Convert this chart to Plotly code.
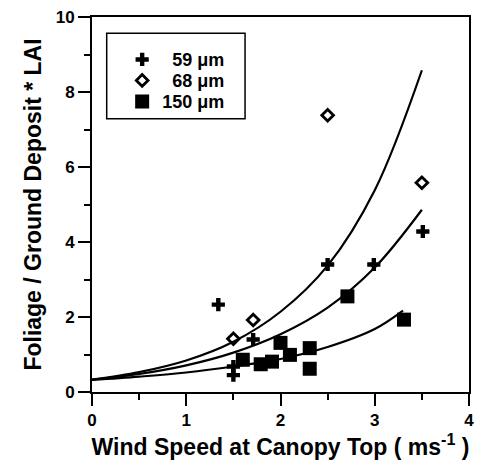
import plotly.graph_objects as go

# --- data ---
x59 = [1.34, 1.50, 1.50, 1.71, 2.50, 2.99, 3.51]
y59 = [2.33, 0.45, 0.68, 1.40, 3.40, 3.40, 4.28]

x68 = [1.50, 1.71, 2.50, 3.50]
y68 = [1.42, 1.92, 7.38, 5.58]

x150 = [1.60, 1.79, 1.91, 2.00, 2.10, 2.31, 2.31, 2.71, 3.31]
y150 = [0.86, 0.74, 0.81, 1.31, 0.99, 1.17, 0.62, 2.55, 1.93]

# fitted curves
cx68 = [0.0, 0.5, 1.0, 1.5, 2.0, 2.5, 3.0, 3.5]
cy68 = [0.33, 0.53, 0.84, 1.34, 2.14, 3.37, 5.38, 8.58]
cx59 = [0.0, 0.5, 1.0, 1.5, 2.0, 2.5, 3.0, 3.5]
cy59 = [0.33, 0.48, 0.71, 1.05, 1.54, 2.25, 3.32, 4.86]
cx150 = [0.0, 0.5, 1.0, 1.5, 2.0, 2.5, 3.0, 3.3]
cy150 = [0.32, 0.41, 0.52, 0.68, 0.88, 1.2, 1.68, 2.17]

labels = ["\u200759 \u03bcm", "\u200768 \u03bcm", "150 \u03bcm"]

FONT = "Liberation Sans, Arial, sans-serif"

fig = go.Figure()
for cx, cy in [(cx68, cy68), (cx59, cy59), (cx150, cy150)]:
    fig.add_trace(go.Scatter(x=cx, y=cy, mode="lines", line=dict(color="black", width=2.2, shape="spline"),
                             showlegend=False, hoverinfo="skip"))

fig.add_trace(go.Scatter(x=x59, y=y59, mode="markers", name=labels[0], legend="legend",
                         marker=dict(symbol="cross", size=11, color="black", line=dict(width=0))))
fig.add_trace(go.Scatter(x=x68, y=y68, mode="markers", name=labels[1], legend="legend2",
                         marker=dict(symbol="diamond-open", size=9, color="black", line=dict(width=2.8, color="black"))))
fig.add_trace(go.Scatter(x=x150, y=y150, mode="markers", name=labels[2], legend="legend3",
                         marker=dict(symbol="square", size=14, color="black", line=dict(width=0))))

leg = dict(x=0.08, xanchor="left", yanchor="middle", bgcolor="rgba(0,0,0,0)",
           borderwidth=0, font=dict(size=18, weight="bold"), itemwidth=30)

fig.update_layout(
    width=479, height=462,
    margin=dict(l=92, r=5, t=17, b=70),
    plot_bgcolor="white", paper_bgcolor="white",
    font=dict(family=FONT, color="black", size=17, weight="bold"),
    showlegend=True,
    legend=dict(leg, y=0.886),
    legend2=dict(leg, y=0.830),
    legend3=dict(leg, y=0.774),
    shapes=[dict(type="rect", xref="paper", yref="paper", x0=0.039, x1=0.406, y0=0.729, y1=0.957,
                 line=dict(color="black", width=1.5))],
)
fig.update_xaxes(range=[0, 4], tickmode="linear", tick0=0, dtick=1, showgrid=False, zeroline=False,
                 showline=True, linecolor="black", linewidth=2, mirror=True,
                 ticks="outside", ticklen=12, tickwidth=2, tickcolor="black",
                 minor=dict(dtick=0.5, ticks="outside", ticklen=6, tickwidth=2, tickcolor="black"),
                 tickfont=dict(size=17, weight="bold"),
                 title=dict(text="Wind Speed at Canopy Top ( ms<sup>-1</sup> )", font=dict(size=23, weight="bold"), standoff=3))
fig.update_yaxes(range=[0, 10], tickmode="linear", tick0=0, dtick=2, showgrid=False, zeroline=False,
                 showline=True, linecolor="black", linewidth=2, mirror=True,
                 ticks="outside", ticklen=12, tickwidth=2, tickcolor="black",
                 minor=dict(dtick=1, ticks="outside", ticklen=6, tickwidth=2, tickcolor="black"),
                 tickfont=dict(size=17, weight="bold"),
                 title=dict(text="Foliage / Ground Deposit * LAI", font=dict(size=23, weight="bold"), standoff=8))

fig.write_html("out.html")
